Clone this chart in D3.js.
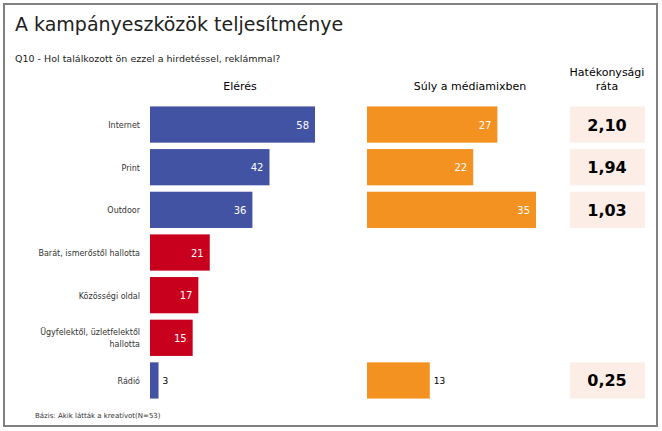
<!DOCTYPE html><html><head><meta charset="utf-8"><script src="https://cdn.jsdelivr.net/npm/d3@7"></script>
<style>body{margin:0;background:#fff}</style></head><body><svg id="c" width="662" height="431"></svg>
<script>
const categories=["Internet","Print","Outdoor","Barát, ismerőstől hallotta","Közösségi oldal","Ügyfelektől, üzletfelektől\nhallotta","Rádió"];
const reach=[58,42,36,21,17,15,3];
const reachColor=["#4353A4","#4353A4","#4353A4","#C8001E","#C8001E","#C8001E","#4353A4"];
const weight=[27,22,35,null,null,null,13];
const rate=["2,10","1,94","1,03",null,null,null,"0,25"];
const svg=d3.select("#c"),F="Verdana, DejaVu Sans, sans-serif";
svg.append("rect").attr("x",4).attr("y",4).attr("width",653).attr("height",422).attr("fill","#fff").attr("stroke","#808080").attr("stroke-width",2);
svg.append("text").attr("x",15).attr("y",31).attr("font-family",F).attr("font-size",19).attr("fill","#222").text("A kampányeszközök teljesítménye");
svg.append("text").attr("x",15).attr("y",62).attr("font-family",F).attr("font-size",9.5).attr("fill","#222").text("Q10 - Hol találkozott ön ezzel a hirdetéssel, reklámmal?");
svg.append("text").attr("x",240).attr("y",90).attr("text-anchor","middle").attr("font-family",F).attr("font-size",11).text("Elérés");
svg.append("text").attr("x",470).attr("y",90).attr("text-anchor","middle").attr("font-family",F).attr("font-size",11).text("Súly a médiamixben");
svg.append("text").attr("x",607).attr("y",76).attr("text-anchor","middle").attr("font-family",F).attr("font-size",11).text("Hatékonysági");
svg.append("text").attr("x",607).attr("y",90).attr("text-anchor","middle").attr("font-family",F).attr("font-size",11).text("ráta");
const y=d3.scaleBand().domain(d3.range(7)).range([103,402]).paddingInner(0.15).paddingOuter(0.08);
const x1=d3.scaleLinear().domain([0,58]).range([150,315]);
const x2=d3.scaleLinear().domain([0,35]).range([367,536]);
const bh=y.bandwidth();
categories.forEach((c,i)=>{
 const cy=y(i)+bh/2, lines=c.split("\n");
 lines.forEach((l,j)=>svg.append("text").attr("x",140).attr("y",cy+3.5+(j-(lines.length-1)/2)*12).attr("text-anchor","end").attr("font-family",F).attr("font-size",8).attr("fill","#333").text(l));
 svg.append("rect").attr("x",x1(0)).attr("y",y(i)).attr("width",x1(reach[i])-x1(0)).attr("height",bh).attr("fill",reachColor[i]);
 const small=reach[i]<8;
 svg.append("text").attr("x",small?x1(reach[i])+4:x1(reach[i])-6).attr("y",cy+4).attr("text-anchor",small?"start":"end").attr("font-family",F).attr("font-size",small?9:10).attr("fill",small?"#000":"#fff").text(reach[i]);
 if(weight[i]!=null){
  svg.append("rect").attr("x",x2(0)).attr("y",y(i)).attr("width",x2(weight[i])-x2(0)).attr("height",bh).attr("fill","#F39220");
  const s=weight[i]<15;
  svg.append("text").attr("x",s?x2(weight[i])+4:x2(weight[i])-6).attr("y",cy+4).attr("text-anchor",s?"start":"end").attr("font-family",F).attr("font-size",s?9:10).attr("fill",s?"#000":"#fff").text(weight[i]);
 }
 if(rate[i]!=null){
  svg.append("rect").attr("x",570).attr("y",y(i)).attr("width",75).attr("height",bh).attr("fill","#FCEEE6");
  svg.append("text").attr("x",607).attr("y",cy+6).attr("text-anchor","middle").attr("font-family",F).attr("font-size",16).attr("font-weight","bold").attr("fill","#000").text(rate[i]);
 }
});
svg.append("text").attr("x",35).attr("y",418).attr("font-family",F).attr("font-size",7).attr("fill","#333").text("Bázis: Akik látták a kreatívot(N=53)");
</script></body></html>
